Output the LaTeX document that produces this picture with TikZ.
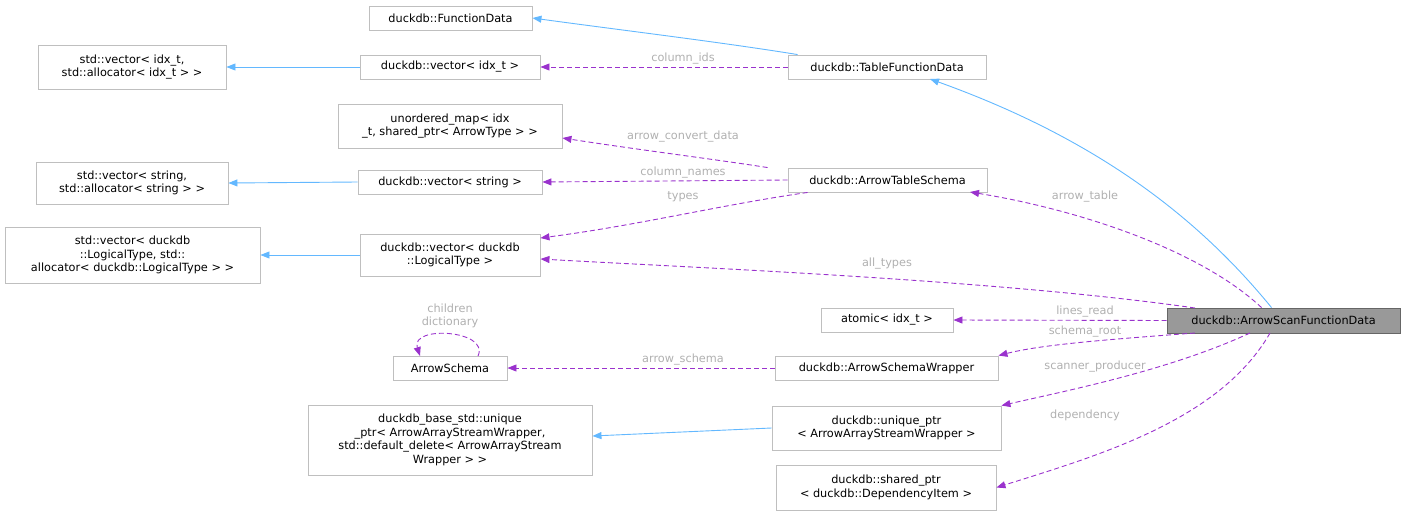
\documentclass[tikz,border=0pt]{standalone}
\usepackage{fontspec}
\setmainfont{DejaVu Sans}
\usetikzlibrary{arrows.meta}
\definecolor{edgeblue}{HTML}{63B8FF}
\definecolor{edgepurple}{HTML}{9A32CD}
\definecolor{lbl}{HTML}{B0B0B0}
\definecolor{bord}{HTML}{BFBFBF}
\begin{document}
\begin{tikzpicture}[x=1pt,y=-1pt,line width=0.9pt,
  box/.style={draw=bord,fill=white,inner sep=0pt,align=center,font=\fontsize{11.3}{13.5}\selectfont},
  inh/.style={draw=edgeblue,-{Triangle[length=9pt,width=7pt,fill=edgeblue]}},
  use/.style={draw=edgepurple,dashed,dash pattern=on 5pt off 3pt,-{Triangle[length=9pt,width=7pt,fill=edgepurple]}},
  lab/.style={text=lbl,font=\fontsize{11.3}{13.5}\selectfont,inner sep=1pt,align=center}]
\useasboundingbox (0,0) rectangle (1405,517);
\node[box,minimum width=163,minimum height=24] (fd) at (450.5,18) {duckdb::FunctionData};
\node[box,minimum width=198,minimum height=24] (tfd) at (887,67) {duckdb::TableFunctionData};
\node[box,minimum width=188,minimum height=44] (vi) at (132,67) {std::vector< idx\_t,\\ std::allocator< idx\_t > >};
\node[box,minimum width=180,minimum height=24] (dvi) at (450,67) {duckdb::vector< idx\_t >};
\node[box,minimum width=224,minimum height=44] (um) at (450,126) {unordered\_map< idx\\\_t, shared\_ptr< ArrowType > >};
\node[box,minimum width=199,minimum height=24] (ats) at (887.5,180) {duckdb::ArrowTableSchema};
\node[box,minimum width=192,minimum height=42] (vs) at (132,183) {std::vector< string,\\ std::allocator< string > >};
\node[box,minimum width=184,minimum height=24] (dvs) at (450,182) {duckdb::vector< string >};
\node[box,minimum width=255,minimum height=56] (vl) at (132.5,255) {std::vector< duckdb\\::LogicalType, std::\\allocator< duckdb::LogicalType > >};
\node[box,minimum width=180,minimum height=42] (dvl) at (450,255) {duckdb::vector< duckdb\\::LogicalType >};
\node[box,minimum width=132,minimum height=24] (at) at (887,320) {atomic< idx\_t >};
\node[box,fill=black!40,draw=black!60,minimum width=233,minimum height=25] (asf) at (1283.5,320.5) {duckdb::ArrowScanFunctionData};
\node[box,minimum width=114,minimum height=24] (as) at (450,368) {ArrowSchema};
\node[box,minimum width=223,minimum height=24] (asw) at (886.5,368) {duckdb::ArrowSchemaWrapper};
\node[box,minimum width=284,minimum height=70] (ub) at (450,440) {duckdb\_base\_std::unique\\\_ptr< ArrowArrayStreamWrapper,\\ std::default\_delete< ArrowArrayStream\\Wrapper > >};
\node[box,minimum width=229,minimum height=44] (up) at (886.5,428) {duckdb::unique\_ptr\\< ArrowArrayStreamWrapper >};
\node[box,minimum width=220,minimum height=45] (sp) at (886,487.5) {duckdb::shared\_ptr\\< duckdb::DependencyItem >};

\draw[inh] (tfd.north west) ++(10,0) .. controls (720,42) and (620,30) .. (fd.east);
\draw[inh] (dvi.west) -- (vi.east);
\draw[use] (tfd.west) -- (dvi.east);
\node[lab] (l1) at (683,59) {column\_ids};
\draw[inh] (asf.north) ++(-12,0) .. controls (1200,220) and (1100,140) .. (930,79);
\draw[use] (ats.north west) ++(-20,0) .. controls (720,160) and (640,150) .. (um.east |- 0,138);
\node[lab] (l2) at (683,137) {arrow\_convert\_data};
\draw[inh] (dvs.west) -- (vs.east);
\draw[use] (ats.west) -- (dvs.east);
\node[lab] (l3) at (683,173) {column\_names};
\draw[use] (ats.south west) ++(20,0) .. controls (720,205) and (640,225) .. (dvl.east |- 0,238);
\node[lab] (l4) at (683,197) {types};
\draw[inh] (dvl.west) -- (vl.east);
\draw[use] (asf.north) ++(-22,0) .. controls (1200,250) and (1080,210) .. (970,192);
\node[lab] (l5) at (1085,197) {arrow\_table};
\draw[use] (1195,308) .. controls (1000,280) and (700,268) .. (dvl.east |- 0,259);
\node[lab] (l6) at (887,264) {all\_types};
\draw[use] (asf.west) -- (at.east);
\node[lab] (l7) at (1085,312) {lines\_read};
\draw[use] (1195,333) .. controls (1100,340) and (1040,345) .. (asw.north east);
\node[lab] (l8) at (1085,332) {schema\_root};
\draw[use] (asw.west) -- (as.east);
\node[lab] (l9) at (683,360) {arrow\_schema};
\draw[use] (478,356) .. controls (490,330) and (410,325) .. (420,356);
\node[lab] (chd) at (450,316) {children\\dictionary};
\draw[use] (1250,333) .. controls (1170,370) and (1070,390) .. (up.north east);
\node[lab] (l10) at (1095,367) {scanner\_producer};
\draw[inh] (up.west) -- (ub.east |- 0,436);
\draw[use] (1270,333) .. controls (1220,420) and (1100,455) .. (sp.east);
\node[lab] (l11) at (1085,415) {dependency};
\end{tikzpicture}
\end{document}
